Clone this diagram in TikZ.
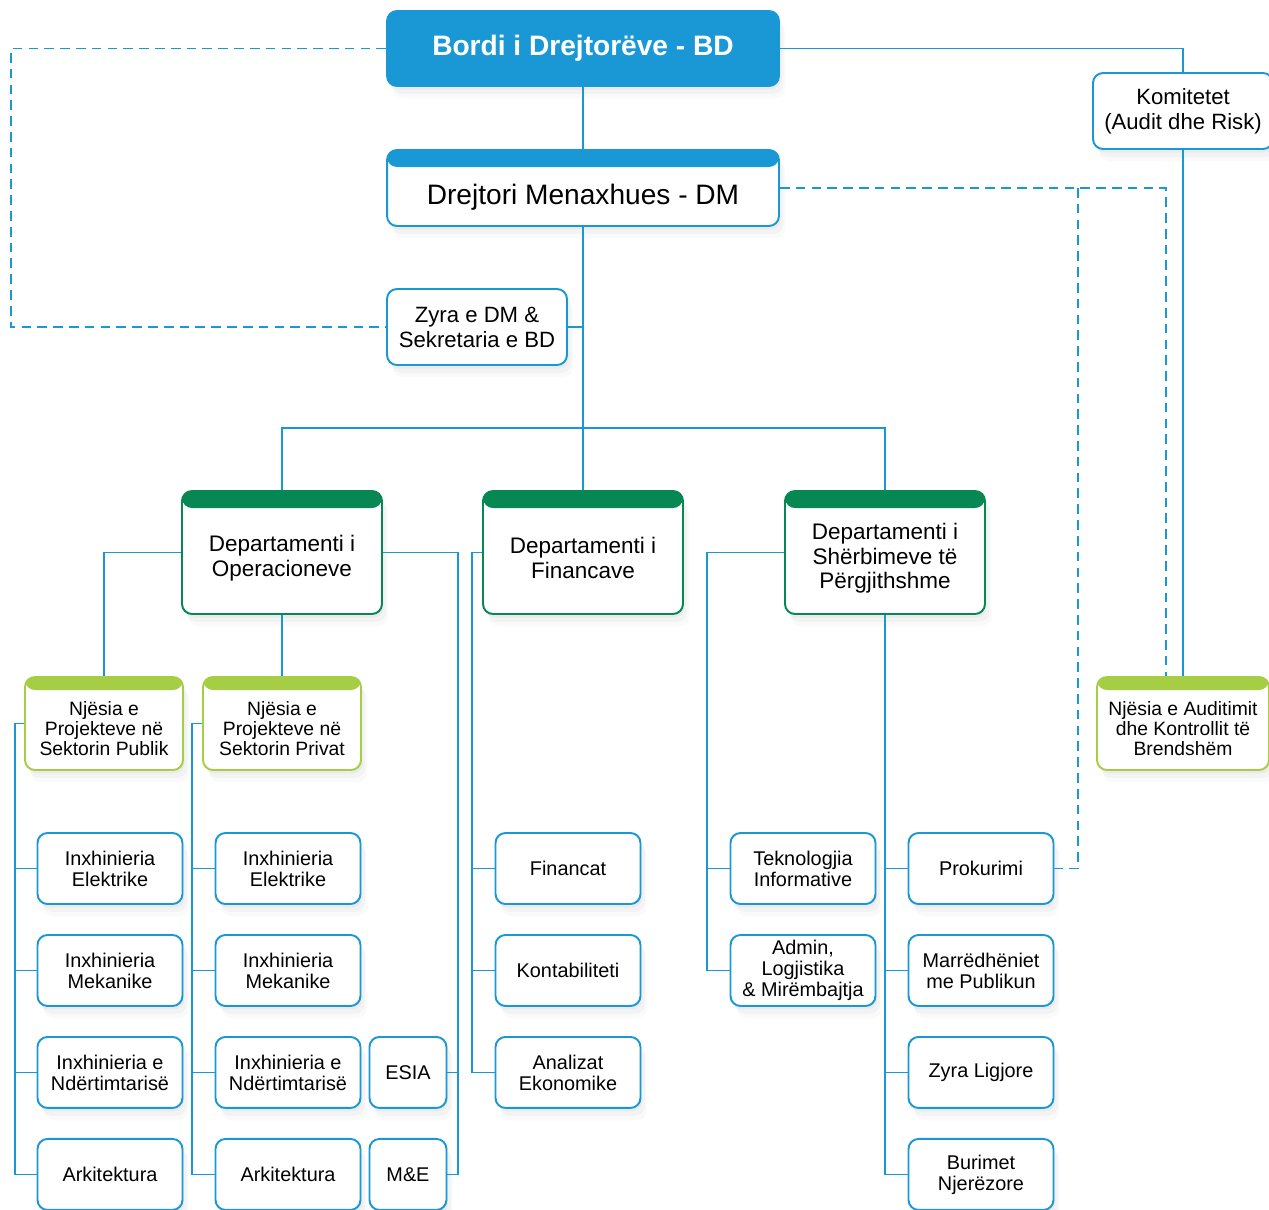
\documentclass[tikz,border=0pt]{standalone}
\usepackage{fontspec}
\setmainfont{Liberation Sans}
\usetikzlibrary{shadows}
\definecolor{azzurro}{RGB}{26,152,213}
\definecolor{verde}{RGB}{7,135,84}
\definecolor{verdechiaro}{RGB}{166,206,69}
\tikzset{
ombra/.style={drop shadow={shadow xshift=1pt,shadow yshift=-2pt,opacity=0.07},
  drop shadow={shadow xshift=2.5pt,shadow yshift=-4.5pt,opacity=0.06},
  drop shadow={shadow xshift=3.5pt,shadow yshift=-7pt,opacity=0.04}},
scatola/.style={draw=azzurro,line width=1.1pt,fill=white,rounded corners=0.2cm,align=center,inner sep=1pt,text=black,ombra},
fascia/.style 2 args={path picture={\fill[#1] (path picture bounding box.north west) rectangle ([yshift=-#2]path picture bounding box.north east);}},
foglia/.style={scatola,minimum width=2.9cm,minimum height=1.42cm,font=\fontsize{11.3}{12}\selectfont},
piccola/.style={foglia,minimum width=1.54cm},
unita/.style={scatola,draw=verdechiaro,fascia={verdechiaro}{0.26cm},minimum width=3.16cm,minimum height=1.86cm,
  align=flush center,text width=3.06cm,text height=13.5pt,font=\fontsize{11}{11.4}\selectfont},
dipartimento/.style={scatola,draw=verde,fascia={verde}{0.34cm},minimum width=4cm,minimum height=2.46cm,
  align=flush center,text width=3.8cm,text height=15.8pt,font=\fontsize{12.8}{14.2}\selectfont},
ufficio/.style={scatola,minimum width=3.6cm,minimum height=1.52cm,font=\fontsize{12.6}{14.2}\selectfont},
linea/.style={draw=azzurro,line width=0.75pt},
tratteggio/.style={linea,dash pattern=on 5.5pt off 3.5pt}}

\begin{document}
\begin{tikzpicture}[x=0.02cm,y=-0.02cm,node distance=2.04cm]
\useasboundingbox (0,0) rectangle (1269,1210);

\node (bd) [scatola,fill=azzurro,minimum width=7.84cm,minimum height=1.5cm,text=white,font=\fontsize{16}{18}\selectfont\bfseries] at (583,48.5) {Bordi i Drejtorëve - BD};
\node (dm) [scatola,fascia={azzurro}{0.34cm},minimum width=7.84cm,minimum height=1.52cm,align=flush center,text width=7.5cm,text height=22.3pt,font=\fontsize{16}{18}\selectfont] at (583,188) {Drejtori Menaxhues - DM};
\node (zyra) [ufficio] at (477,327) {Zyra e DM \&\\Sekretaria e BD};
\node (kom) [ufficio] at (1183,111) {Komitetet\\(Audit dhe Risk)};
\node (aud) [unita,minimum width=3.44cm,text width=3.34cm] at (1183,723.5) {Njësia e Auditimit\\dhe Kontrollit të\\Brendshëm};

\node (dop) [dipartimento] at (282,552.5) {Departamenti i\\Operacioneve};
\node (dfin) [dipartimento] at (583,552.5) {Departamenti i\\Financave};
\node (dsh) [dipartimento] at (885,552.5) {Departamenti i\\Shërbimeve të\\Përgjithshme};

\node (npub) [unita] at (104,723.5) {Njësia e\\Projekteve në\\Sektorin Publik};
\node (npriv) [unita] at (282,723.5) {Njësia e\\Projekteve në\\Sektorin Privat};

\node (el1) [foglia] at (110,868.5) {Inxhinieria\\Elektrike};
\node (mk1) [foglia,below of=el1] {Inxhinieria\\Mekanike};
\node (nd1) [foglia,below of=mk1] {Inxhinieria e\\Ndërtimtarisë};
\node (ar1) [foglia,below of=nd1] {Arkitektura};

\node (el2) [foglia] at (288,868.5) {Inxhinieria\\Elektrike};
\node (mk2) [foglia,below of=el2] {Inxhinieria\\Mekanike};
\node (nd2) [foglia,below of=mk2] {Inxhinieria e\\Ndërtimtarisë};
\node (ar2) [foglia,below of=nd2] {Arkitektura};
\node (esia) [piccola,right of=nd2,node distance=2.4cm] {ESIA};
\node (me) [piccola,below of=esia] {M\&E};

\node (fin) [foglia] at (568,868.5) {Financat};
\node (kont) [foglia,below of=fin] {Kontabiliteti};
\node (anl) [foglia,below of=kont] {Analizat\\Ekonomike};

\node (ti) [foglia] at (803,868.5) {Teknologjia\\Informative};
\node (adm) [foglia,below of=ti] {Admin,\\Logjistika\\\& Mirëmbajtja};

\node (prok) [foglia] at (981,868.5) {Prokurimi};
\node (marr) [foglia,below of=prok] {Marrëdhëniet\\me Publikun};
\node (zl) [foglia,below of=marr] {Zyra Ligjore};
\node (bur) [foglia,below of=zl] {Burimet\\Njerëzore};

\coordinate (bus) at (583,428);
\coordinate (sx) at (11,327);
\coordinate (pk) at (1078,188);
\coordinate (x1) at (15,0);
\coordinate (x2) at (192,0);
\coordinate (x3) at (458,0);
\coordinate (x4) at (472,0);
\coordinate (x5) at (707,0);

\draw[linea] (bd) -- (dm);
\draw[linea] (dm) -- (dfin);
\draw[linea] (zyra.east) -- (zyra.east -| dm.south);
\draw[linea] (dop.north) |- (bus) -| (dsh.north);
\draw[linea] (bd.east) -| (kom.north);
\draw[linea] (kom) -- (aud);
\draw[tratteggio] (bd.west) -| (sx) -- (zyra.west);
\draw[tratteggio] (dm.east) -| ([xshift=-0.34cm]aud.north);
\draw[tratteggio] (pk) |- (prok.east);

\draw[linea] (dop.west) -| (npub.north);
\draw[linea] (dop) -- (npriv);
\draw[linea] (npub.west) -| (ar1.west -| x1) -- (ar1.west);
\draw[linea] (npriv.west) -| (ar2.west -| x2) -- (ar2.west);
\draw[linea] (dop.east) -| (me.east -| x3) -- (me.east);
\draw[linea] (esia.east) -- (esia.east -| x3);
\foreach \n in {el1,mk1,nd1} \draw[linea] (\n.west) -- (\n.west -| x1);
\foreach \n in {el2,mk2,nd2} \draw[linea] (\n.west) -- (\n.west -| x2);

\draw[linea] (dfin.west) -| (anl.west -| x4) -- (anl.west);
\foreach \n in {fin,kont} \draw[linea] (\n.west) -- (\n.west -| x4);

\draw[linea] (dsh.west) -| (adm.west -| x5) -- (adm.west);
\draw[linea] (ti.west) -- (ti.west -| x5);
\draw[linea] (dsh.south) |- (bur.west);
\foreach \n in {prok,marr,zl} \draw[linea] (\n.west) -- (\n.west -| dsh.south);

\end{tikzpicture}
\end{document}
